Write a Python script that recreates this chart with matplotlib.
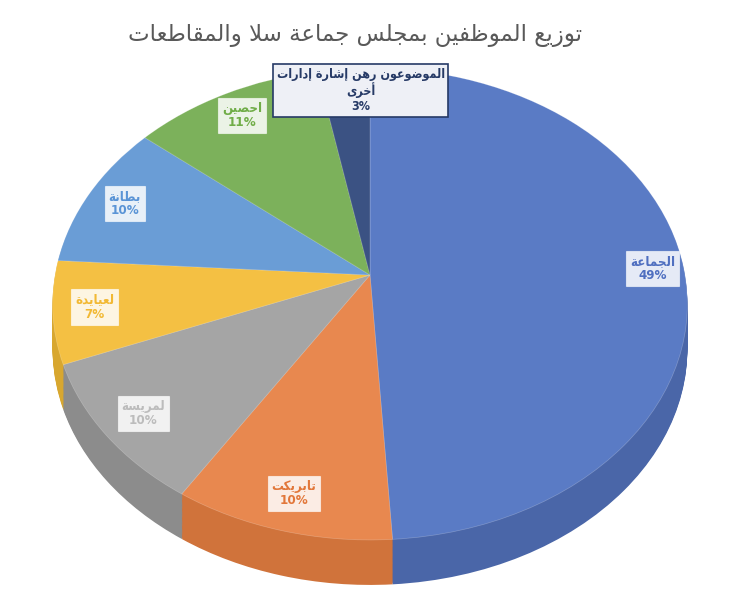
import numpy as np
import matplotlib
matplotlib.use('Agg')
import matplotlib.pyplot as plt
from matplotlib.transforms import Transform

# data
names = ['الجماعة', 'تابريكت', 'لمريسة', 'لعيايدة', 'بطانة', 'احصين',
         'الموضوعون رهن إشارة إدارات\nأخرى']
shares = [49, 10, 10, 7, 10, 11, 3]
title = 'توزيع الموظفين بمجلس جماعة سلا والمقاطعات'

top_colors = ['#5a7bc5', '#e8884f', '#a5a5a5', '#f4c043', '#6a9dd6', '#7cb15b', '#3b5283']
wall_colors = ['#4a66a8', '#d0733b', '#8c8c8c', '#d8a72f', '#5585bd', '#679a47', '#2d4068']
text_colors = ['#4f6fc0', '#e2773a', '#bcbcbc', '#f2b934', '#5a94d6', '#70ad47', '#263a66']

# arabic shaping by hand (no reshaper available): presentation forms B
FORMS = {
    'ا': (0xFE8D, 2), 'أ': (0xFE83, 2), 'إ': (0xFE87, 2), 'ب': (0xFE8F, 4),
    'ة': (0xFE93, 2), 'ت': (0xFE95, 4), 'ج': (0xFE9D, 4), 'ح': (0xFEA1, 4),
    'خ': (0xFEA5, 4), 'د': (0xFEA9, 2), 'ر': (0xFEAD, 2), 'ز': (0xFEAF, 2),
    'س': (0xFEB1, 4), 'ش': (0xFEB5, 4), 'ص': (0xFEB9, 4), 'ض': (0xFEBD, 4),
    'ط': (0xFEC1, 4), 'ظ': (0xFEC5, 4), 'ع': (0xFEC9, 4), 'ف': (0xFED1, 4),
    'ق': (0xFED5, 4), 'ك': (0xFED9, 4), 'ل': (0xFEDD, 4), 'م': (0xFEE1, 4),
    'ن': (0xFEE5, 4), 'ه': (0xFEE9, 4), 'و': (0xFEED, 2), 'ى': (0xFEEF, 2),
    'ي': (0xFEF1, 4),
}
LAM_ALEF = {'ا': 0xFEFB, 'أ': 0xFEF7, 'إ': 0xFEF9}


def shape_line(text):
    out = []
    i = 0
    while i < len(text):
        ch = text[i]
        if ch not in FORMS:
            out.append(ch)
            i += 1
            continue
        prev = text[i - 1] if i > 0 else ''
        joins_prev = prev in FORMS and FORMS[prev][1] == 4
        nxt = text[i + 1] if i + 1 < len(text) else ''
        if ch == 'ل' and nxt in LAM_ALEF:
            out.append(chr(LAM_ALEF[nxt] + (1 if joins_prev else 0)))
            i += 2
            continue
        base, nforms = FORMS[ch]
        joins_next = nforms == 4 and nxt in FORMS
        if joins_prev and joins_next:
            off = 3
        elif joins_prev:
            off = 1
        elif joins_next:
            off = 2
        else:
            off = 0
        out.append(chr(base + off))
        i += 1
    return ''.join(reversed(out))


def shape(text):
    return '\n'.join(shape_line(t) for t in text.split('\n'))


class Tilt(Transform):
    # simple perspective: far side (y>0) shrinks, then drop for the side wall
    input_dims = output_dims = 2

    def __init__(self, k, drop=0.0):
        super().__init__()
        self.k = k
        self.drop = drop

    def transform_non_affine(self, xy):
        xy = np.asarray(xy, dtype=float)
        w = 1 + self.k * xy[:, 1]
        return np.column_stack([xy[:, 0] / w, xy[:, 1] / w - self.drop])


W, H = 742, 597
cx, cy = 370, 275       # pixel centre of the top face
A, B = 315.0, 232.4     # pixel scale
k = 0.1228
depth = 45

fig = plt.figure(figsize=(W / 100, H / 100), dpi=100)
ax = fig.add_axes([0, 0, 1, 1])

n_layers = 40
for d in np.linspace(depth, 1, n_layers):
    wedges, _ = ax.pie(shares, colors=wall_colors, startangle=90, counterclock=False,
                       wedgeprops=dict(linewidth=0))
    for w in wedges:
        w.set_transform(Tilt(k, d / B) + ax.transData)

wedges, _ = ax.pie(shares, colors=top_colors, startangle=90, counterclock=False,
                   wedgeprops=dict(linewidth=0.5, edgecolor='#ffffff40'))
for w in wedges:
    w.set_transform(Tilt(k) + ax.transData)

ax.set_aspect('auto')
ax.set_xlim(-cx / A, (W - cx) / A)
ax.set_ylim((cy - H) / B, cy / B)
ax.axis('off')

# labels
cum = np.cumsum([0] + shares[:-1])
for i, (name, v) in enumerate(zip(names, shares)):
    mid = np.deg2rad(90 - 3.6 * (cum[i] + v / 2))
    r = 0.9 if i == 0 else 0.87
    last = i == len(names) - 1
    box = dict(boxstyle='square,pad=0.3',
               fc='#eef0f6' if last else (1, 1, 1, 0.85),
               ec='#263a66' if last else (1, 1, 1, 0.6),
               lw=1.2 if last else 0.8)
    ax.annotate(shape(name) + '\n' + f'{v}%', (r * np.cos(mid), r * np.sin(mid)),
                xycoords=Tilt(k) + ax.transData,
                xytext=(10 if last else 0, 2 if last else 0), textcoords='offset points',
                ha='center', va='center',
                fontsize=9 if last else 9.5, fontweight='bold', color=text_colors[i],
                family='DejaVu Sans', fontstretch='condensed',
                linespacing=1.15, bbox=box, zorder=10)

fig.text(0.478, 0.94, shape(title), ha='center', va='center', fontsize=16.5,
         color='#595959', family='DejaVu Sans')

fig.savefig('out.png', dpi=100)
